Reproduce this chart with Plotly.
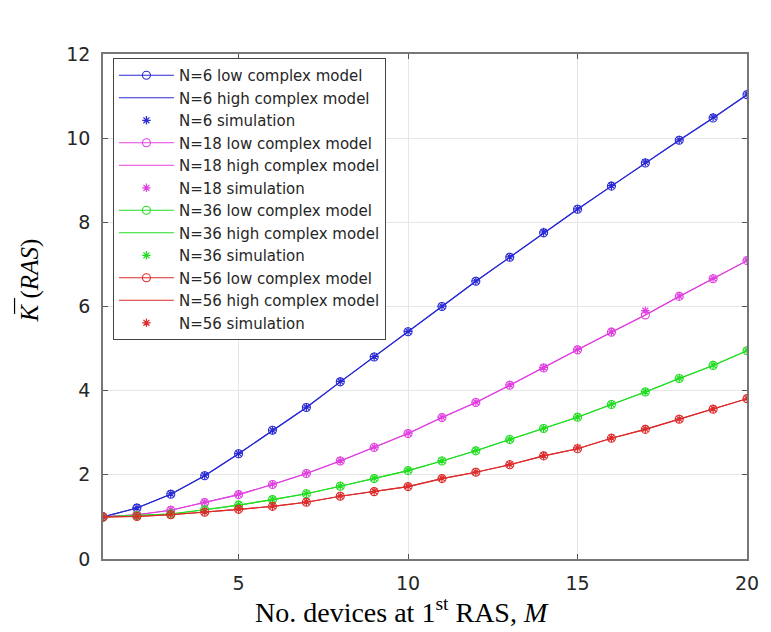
import plotly.graph_objects as go

M = list(range(1, 21))

# N=6
n6_low = [1.00, 1.21, 1.54, 1.98, 2.50, 3.06, 3.60, 4.21, 4.80, 5.40, 6.00, 6.60, 7.17, 7.75, 8.31, 8.86, 9.41, 9.95, 10.48, 11.03]
n6_high = [1.00, 1.21, 1.54, 1.98, 2.50, 3.06, 3.60, 4.21, 4.80, 5.40, 6.00, 6.60, 7.17, 7.75, 8.31, 8.86, 9.41, 9.95, 10.48, 11.03]
n6_sim = [1.00, 1.22, 1.55, 1.99, 2.51, 3.06, 3.61, 4.22, 4.81, 5.41, 6.01, 6.61, 7.18, 7.77, 8.32, 8.87, 9.43, 9.96, 10.50, 11.05]

# N=18
n18_low = [1.00, 1.05, 1.16, 1.34, 1.53, 1.77, 2.03, 2.33, 2.65, 2.98, 3.36, 3.72, 4.13, 4.54, 4.97, 5.39, 5.80, 6.24, 6.66, 7.09]
n18_high = [1.00, 1.05, 1.16, 1.34, 1.53, 1.77, 2.03, 2.33, 2.65, 2.98, 3.36, 3.72, 4.13, 4.54, 4.97, 5.39, 5.80, 6.24, 6.66, 7.09]
n18_sim = [1.00, 1.05, 1.17, 1.35, 1.54, 1.78, 2.04, 2.34, 2.66, 2.99, 3.37, 3.73, 4.14, 4.55, 4.98, 5.40, 5.90, 6.25, 6.67, 7.10]

# N=36
n36_low = [1.00, 1.03, 1.07, 1.17, 1.28, 1.41, 1.55, 1.73, 1.91, 2.10, 2.33, 2.57, 2.84, 3.10, 3.37, 3.67, 3.97, 4.29, 4.60, 4.95]
n36_high = [1.00, 1.03, 1.07, 1.17, 1.28, 1.41, 1.55, 1.73, 1.91, 2.10, 2.33, 2.57, 2.84, 3.10, 3.37, 3.67, 3.97, 4.29, 4.60, 4.95]
n36_sim = [1.00, 1.03, 1.08, 1.18, 1.29, 1.42, 1.56, 1.74, 1.92, 2.11, 2.34, 2.58, 2.85, 3.11, 3.38, 3.68, 3.98, 4.30, 4.61, 4.96]

# N=56
n56_low = [1.00, 1.01, 1.05, 1.11, 1.18, 1.25, 1.35, 1.49, 1.60, 1.72, 1.91, 2.06, 2.24, 2.45, 2.62, 2.87, 3.08, 3.32, 3.56, 3.81]
n56_high = [1.00, 1.01, 1.05, 1.11, 1.18, 1.25, 1.35, 1.49, 1.60, 1.72, 1.91, 2.06, 2.24, 2.45, 2.62, 2.87, 3.08, 3.32, 3.56, 3.81]
n56_sim = [1.00, 1.02, 1.06, 1.12, 1.19, 1.26, 1.36, 1.50, 1.61, 1.73, 1.92, 2.07, 2.25, 2.46, 2.64, 2.88, 3.09, 3.33, 3.57, 3.82]

x_ticks = [5, 10, 15, 20]
y_ticks = [0, 2, 4, 6, 8, 10, 12]

groups = [
    ("N=6", "#2a2ad4", n6_low, n6_high, n6_sim),
    ("N=18", "#e040e0", n18_low, n18_high, n18_sim),
    ("N=36", "#22dd22", n36_low, n36_high, n36_sim),
    ("N=56", "#dd2a2a", n56_low, n56_high, n56_sim),
]

fig = go.Figure()
for name, col, low, high, sim in groups:
    fig.add_trace(go.Scatter(
        x=M, y=low, mode="lines+markers", name=f"{name} low complex model",
        line=dict(color=col, width=1.1),
        marker=dict(symbol="circle-open", size=8, color=col, line=dict(width=1.1)),
    ))
    fig.add_trace(go.Scatter(
        x=M, y=high, mode="lines", name=f"{name} high complex model",
        line=dict(color=col, width=1.1),
    ))
    fig.add_trace(go.Scatter(
        x=M, y=sim, mode="markers", name=f"{name} simulation",
        marker=dict(symbol="asterisk-open", size=7, color=col, line=dict(width=1.2, color=col)),
    ))

axis_common = dict(
    showline=True, linecolor="#777777", linewidth=1.5, mirror="ticks",
    ticks="inside", ticklen=5, tickcolor="#555555", tickwidth=1,
    showgrid=True, gridcolor="#e6e6e6", gridwidth=1, zeroline=False,
    tickfont=dict(family="DejaVu Sans", size=19, color="#262626"),
)

fig.update_xaxes(range=[1, 20], tickvals=x_ticks, ticklabelstandoff=6, **axis_common)
fig.update_yaxes(range=[0, 12], tickvals=y_ticks, ticklabelstandoff=7, **axis_common)

# The page body adds an 8 px offset; the figure is sized so the plot area lands at
# x 103..751, y 54..559 in the 771x632 window.
fig.update_layout(
    width=763, height=624,
    margin=dict(l=95, r=20, t=46, b=73),
    paper_bgcolor="white", plot_bgcolor="white",
    showlegend=True,
    legend=dict(
        x=0.0154, y=0.992, xanchor="left", yanchor="top",
        bgcolor="white", bordercolor="#444444", borderwidth=1,
        font=dict(family="DejaVu Sans", size=15, color="#262626"),
        itemwidth=55, tracegroupgap=0,
    ),
    annotations=[
        dict(text="No. devices at 1<sup>st</sup> RAS, <i>M</i>", xref="paper", yref="paper",
             x=0.4645, y=-0.101, xanchor="center", yanchor="middle", showarrow=False,
             font=dict(family="Liberation Serif", size=28, color="black")),
        dict(text="<i>K</i> (<i>RAS</i>)", xref="paper", yref="paper",
             x=-0.1127, y=0.5525, xanchor="center", yanchor="middle", showarrow=False,
             textangle=-90,
             font=dict(family="Liberation Serif", size=25, color="black")),
    ],
    shapes=[
        # overbar of K (decoration of the axis title)
        dict(type="line", xref="paper", yref="paper",
             x0=(14 - 103) / 648, x1=(14 - 103) / 648,
             y0=(559 - 298) / 505, y1=(559 - 314) / 505,
             line=dict(color="black", width=1.2)),
    ],
)

fig.write_html("out.html")
